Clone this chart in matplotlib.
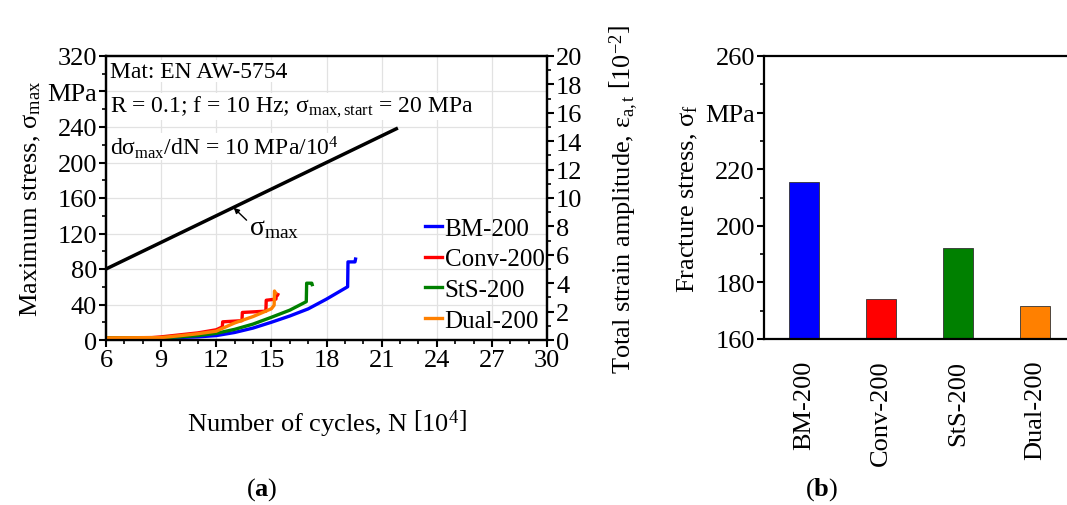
import matplotlib
matplotlib.use("Agg")
import matplotlib.pyplot as plt
from matplotlib.ticker import MultipleLocator, FixedLocator, FixedFormatter
import numpy as np

plt.rcParams['font.family'] = ['Liberation Serif', 'DejaVu Serif']
plt.rcParams['mathtext.fontset'] = 'custom'
plt.rcParams['mathtext.rm'] = 'Liberation Serif'
plt.rcParams['mathtext.it'] = 'Liberation Serif:italic'
plt.rcParams['mathtext.bf'] = 'Liberation Serif:bold'

# ---------------- data ----------------
# sigma_max ramp (MPa) vs N [10^4]
smax_N = [6.0, 21.8]
smax_S = [80.0, 238.0]

# total strain amplitude [10^-2] vs N [10^4]
bm_N = [6, 9, 10, 11, 12, 13, 14, 15, 16, 17, 18, 19.15, 19.17, 19.55, 19.58]
bm_E = [0.15, 0.16, 0.18, 0.22, 0.31, 0.53, 0.84, 1.25, 1.69, 2.19, 2.88, 3.75, 5.5, 5.5, 5.7]

conv_N = [6, 8.5, 9, 10, 11, 12, 12.33, 12.35, 13.4, 13.42, 14.7, 14.72, 15.25, 15.27, 15.35]
conv_E = [0.15, 0.17, 0.22, 0.36, 0.5, 0.72, 0.92, 1.28, 1.36, 1.94, 2.03, 2.8, 2.88, 3.25, 3.2]

sts_N = [6, 9, 10, 11, 12, 13, 14, 15, 16, 16.9, 16.92, 17.2, 17.22]
sts_E = [0.15, 0.16, 0.22, 0.31, 0.47, 0.75, 1.12, 1.6, 2.1, 2.7, 4.0, 4.0, 3.9]

dual_N = [6, 9, 10, 11, 12, 12.3, 13, 14, 15, 15.15, 15.17, 15.22]
dual_E = [0.15, 0.17, 0.3, 0.44, 0.62, 0.8, 1.2, 1.65, 2.2, 2.45, 3.45, 3.3]

bar_labels = ['BM-200', 'Conv-200', 'StS-200', 'Dual-200']
bar_values = [215.5, 174.0, 192.0, 171.5]
bar_colors = ['#0000ff', '#ff0000', '#008000', '#ff8000']

left_yticks = [0, 40, 80, 120, 160, 200, 240, 280, 320]
left_yticklabels = ['0', '40', '80', '120', '160', '200', '240', 'MPa', '320']
right_yticks = [160, 180, 200, 220, 240, 260]
right_yticklabels = ['160', '180', '200', '220', 'MPa', '260']

# ---------------- figure ----------------
W, H = 1067, 506
fig = plt.figure(figsize=(W / 100, H / 100), dpi=100)

def px_axes(l, t, r, b):
    return [l / W, 1 - b / H, (r - l) / W, (b - t) / H]

FS = 19
ax = fig.add_axes(px_axes(106, 57, 547, 341))
ax2 = ax.twinx()

ax.plot(smax_N, smax_S, color='black', lw=2.5, zorder=5)
ax.set_xlim(6, 30)
ax.set_ylim(0, 320)
ax2.set_ylim(0, 20)

ax2.plot(bm_N, bm_E, color='#0000ff', lw=2.4, label='BM-200')
ax2.plot(conv_N, conv_E, color='#ff0000', lw=2.4, label='Conv-200')
ax2.plot(sts_N, sts_E, color='#008000', lw=2.4, label='StS-200')
ax2.plot(dual_N, dual_E, color='#ff8000', lw=2.4, label='Dual-200')

ax.xaxis.set_major_locator(MultipleLocator(3))
ax.xaxis.set_minor_locator(MultipleLocator(1))
ax.yaxis.set_major_locator(FixedLocator(left_yticks))
ax.yaxis.set_major_formatter(FixedFormatter(left_yticklabels))
ax.yaxis.set_minor_locator(MultipleLocator(20))
ax2.yaxis.set_major_locator(MultipleLocator(2))
ax2.yaxis.set_minor_locator(MultipleLocator(1))

for a in (ax, ax2):
    a.tick_params(which='major', direction='out', length=5, width=1.5, labelsize=FS, pad=1.5)
    a.tick_params(which='minor', direction='out', length=3, width=1.2)
    for s in a.spines.values():
        s.set_linewidth(1.6)

ax.grid(True, which='major', color='#e2e2e2', lw=0.9)
ax.set_axisbelow(True)

ax.set_ylabel('Maximum stress, σ$_{\\mathrm{max}}$', fontsize=FS, labelpad=3)
ax.set_xlabel('Number of cycles, N $\\left[10^{4}\\right]$', fontsize=FS, labelpad=26)
ax2.set_ylabel('Total strain amplitude, ε$_{\\mathrm{a,t}}$ $\\left[10^{-2}\\right]$', fontsize=FS, labelpad=18)

bb = dict(facecolor='white', edgecolor='none', pad=0.5)
ax.text(6.2, 303, 'Mat: EN AW-5754', fontsize=17, va='center', ha='left', bbox=bb, zorder=4)
ax.text(6.2, 263, 'R = 0.1; f = 10 Hz; σ$_{\\mathrm{max,start}}$ = 20 MPa', fontsize=17,
        va='center', ha='left', bbox=bb, zorder=4)
ax.text(6.2, 218, 'dσ$_{\\mathrm{max}}$/dN = 10 MPa/10$^{4}$', fontsize=17,
        va='center', ha='left', bbox=bb, zorder=4)

ax.annotate('', xy=(12.95, 149), xytext=(13.65, 135), zorder=7,
            arrowprops=dict(arrowstyle='-|>', color='black', lw=1.0, mutation_scale=8,
                            shrinkA=0, shrinkB=0))
ax.text(13.8, 119, 'σ$_{\\mathrm{max}}$', fontsize=20, ha='left', va='baseline', zorder=7)

leg = ax2.legend(loc='lower right', bbox_to_anchor=(1.0, 0.02), frameon=False, fontsize=18,
                 handlelength=0.68, handletextpad=0.1, labelspacing=0.33, borderaxespad=0.0,
                 borderpad=0.1)
for l in leg.get_lines():
    l.set_linewidth(2.4)

# ---------------- bar chart ----------------
bx = fig.add_axes(px_axes(764, 57, 1075, 340))
xpos = np.arange(len(bar_labels))
bx.bar(xpos, [v - 160 for v in bar_values], bottom=160, width=0.4, color=bar_colors,
       edgecolor='#333333', linewidth=0.6)
bx.set_xlim(-0.52, 3.52)
bx.set_ylim(160, 260)
bx.set_xticks(xpos)
bx.set_xticklabels(bar_labels, rotation=90, fontsize=FS)
bx.yaxis.set_major_locator(FixedLocator(right_yticks))
bx.yaxis.set_major_formatter(FixedFormatter(right_yticklabels))
bx.yaxis.set_minor_locator(MultipleLocator(10))
bx.tick_params(axis='y', which='major', direction='out', length=5, width=1.5, labelsize=FS, pad=1.5)
bx.tick_params(axis='y', which='minor', direction='out', length=3, width=1.2)
bx.tick_params(axis='x', length=0, pad=15)
for s in bx.spines.values():
    s.set_linewidth(1.6)
bx.set_ylabel('Fracture stress, σ$_{\\mathrm{f}}$', fontsize=FS, labelpad=4)

fig.text(262 / W, 1 - 490 / H, '($\\mathbf{a}$)', fontsize=FS, ha='center', va='center')
fig.text(822 / W, 1 - 490 / H, '($\\mathbf{b}$)', fontsize=FS, ha='center', va='center')

fig.savefig('out.png', dpi=100)
